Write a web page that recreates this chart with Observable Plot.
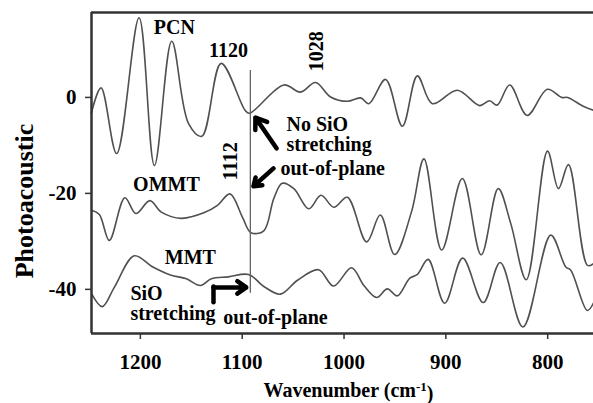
<!DOCTYPE html>
<html>
<head>
<meta charset="utf-8">
<script src="https://cdn.jsdelivr.net/npm/d3@7"></script>
<script src="https://cdn.jsdelivr.net/npm/@observablehq/plot@0.6"></script>
<style>
  html, body { margin: 0; padding: 0; background: #fff; }
</style>
</head>
<body>
<div id="chart"></div>
<script>
// ---- Data (wavenumber in cm^-1, photoacoustic signal) ----
const pcnW = [1248.2,1238.6,1223.3,1201.3,1186.2,1169.2,1152.8,1139.7,1120.7,1097.1,1092.9,1059.1,1042.7,1028.0,1013.2,996.8,983.7,975.6,959.2,942.7,928.0,913.3,888.7,866.8,857.0,849.6,837.3,820.1,800.4,786.2,780.5,764.5,754.7];
const pcnV = [-3.3,2.0,-11.7,16.6,-14.2,11.7,-5.4,-8.1,7.1,-2.7,-3.3,2.6,1.1,3.1,0.1,-0.8,-0.1,-1.3,3.75,-6.0,4.5,-1.3,1.5,-1.7,-0.7,-1.6,2.6,-3.75,1.7,0,0,-1.9,-2.7];

const ommtW = [1247.9,1240.3,1230.5,1215.2,1204.4,1190.7,1179.4,1159.7,1137.1,1124.3,1112.0,1099.7,1091.4,1078.8,1069.0,1060.7,1049.3,1034.6,1022.6,1010.0,996.8,977.8,964.4,950.3,933.6,921.5,904.1,883.8,865.3,848.6,836.3,821.0,800.2,789.4,779.6,760.9,754.7];
const ommtV = [-23.5,-24.4,-29.8,-20.9,-24.2,-21.5,-23.9,-25.2,-24.0,-22.5,-20.1,-25.0,-28.2,-27.8,-21.1,-17.9,-19.0,-23.2,-20.4,-22.9,-20.8,-30.1,-24.5,-32.75,-23.75,-12.8,-31.8,-16.9,-32.8,-19.0,-26.25,-38.0,-11.2,-19.0,-14.0,-35.0,-34.6];

const mmtW = [1247.7,1237.4,1225.6,1205.9,1188.2,1170.5,1154.8,1141.0,1130.2,1113.5,1093.8,1078.1,1062.4,1045.7,1025.0,1010.3,992.6,980.5,968.0,957.5,947.7,935.6,928.0,917.4,901.2,883.5,863.3,846.6,824.3,797.0,782.2,777.3,761.1,754.7];
const mmtV = [-41.0,-43.6,-39.6,-33.0,-35.3,-37.0,-37.8,-39.2,-37.8,-37.4,-36.9,-39.5,-41.0,-38.1,-35.9,-39.3,-35.5,-39.2,-41.7,-39.9,-41.35,-37.7,-36.9,-33.75,-42.9,-33.5,-42.75,-34.4,-47.85,-28.7,-35.35,-36.0,-44.4,-42.7];

const xTicks = [1200, 1100, 1000, 900, 800];
const yTicks = [0, -20, -40];
const xDomain = [1248, 755];
const yDomain = [-49.2, 17.7];

// marker line
const markerW = [1092];
const markerV = [5.6, -40.8];

// annotations
const centerTexts = ["PCN", "1120", "1028", "1112", "OMMT", "MMT", "out-of-plane"];
const centerW = [1166.6, 1113.5, 1027, 1111.5, 1174.4, 1150.9, 1067.3];
const centerV = [14.6, 9.8, 9.6, -13.3, -18.1, -33.3, -45.8];
const centerRot = [0, 0, -90, -90, 0, 0, 0];

const startTexts = ["No SiO\nstretching", "out-of-plane", "SiO\nstretching"];
const startW = [1056.5, 1062.4, 1209.8];
const startV = [-7.8, -14.8, -43.0];

// arrows: [x1, y1, x2, y2]
const arrowX1 = [1066.3, 1069.3, 1128.2];
const arrowY1 = [-10.6, -14.8, -39.6];
const arrowX2 = [1087.0, 1088.9, 1096.0];
const arrowY2 = [-4.2, -18.5, -39.6];
const stemW = [1128.2, 1128.2];
const stemV = [-42.7, -39.4];

// ---- Build tables ----
const series = [
  ...pcnW.map((w, i) => ({name: "PCN", w, v: pcnV[i]})),
  ...ommtW.map((w, i) => ({name: "OMMT", w, v: ommtV[i]})),
  ...mmtW.map((w, i) => ({name: "MMT", w, v: mmtV[i]}))
];
const centerLabels = centerTexts.map((t, i) => ({t, w: centerW[i], v: centerV[i], r: centerRot[i]}));
const startLabels = startTexts.map((t, i) => ({t, w: startW[i], v: startV[i]}));
const arrows = arrowX1.map((x1, i) => ({x1, y1: arrowY1[i], x2: arrowX2[i], y2: arrowY2[i]}));
const stem = stemW.map((w, i) => ({w, v: stemV[i]}));

const font = "'Liberation Serif', 'Times New Roman', serif";
const ink = "#333";

const chart = Plot.plot({
  width: 593,
  height: 403,
  marginLeft: 91,
  marginRight: 0,
  marginTop: 12,
  marginBottom: 70,
  style: {fontFamily: font, fontSize: "21px", fontWeight: "bold", color: "#000", background: "#fff"},
  x: {domain: xDomain, label: null},
  y: {domain: yDomain, label: null},
  marks: [
    Plot.line(series, {x: "w", y: "v", z: "name", stroke: "#505050", strokeWidth: 1.6, curve: "catmull-rom"}),
    Plot.ruleX(markerW, {x: d => d, y1: markerV[0], y2: markerV[1], stroke: "#666", strokeWidth: 1.3}),
    Plot.line(stem, {x: "w", y: "v", stroke: "#000", strokeWidth: 4.5}),
    Plot.arrow(arrows, {x1: "x1", y1: "y1", x2: "x2", y2: "y2", stroke: "#000", strokeWidth: 4.5, headLength: 11, headAngle: 70}),
    Plot.text(centerLabels, {x: "w", y: "v", text: "t", rotate: "r", fontSize: 20, fontWeight: "bold", fill: "#000", textAnchor: "middle"}),
    Plot.text(startLabels, {x: "w", y: "v", text: "t", fontSize: 20, fontWeight: "bold", fill: "#000", textAnchor: "start", lineAnchor: "middle", lineHeight: 0.98}),
    // frame (top, left, bottom)
    Plot.ruleY([yDomain[1], yDomain[0]], {stroke: ink, strokeWidth: 2.5}),
    Plot.ruleX([xDomain[0]], {stroke: ink, strokeWidth: 2.5}),
    Plot.axisX({ticks: xTicks, tickSize: 6, tickPadding: 15, stroke: ink, strokeWidth: 1.5, fontSize: 21, fontWeight: "bold", fill: "#000", tickFormat: d => `${d}`, label: null}),
    Plot.axisY({ticks: yTicks, tickSize: 6, tickPadding: 9, stroke: ink, strokeWidth: 1.5, fontSize: 21, fontWeight: "bold", fill: "#000", tickFormat: d => `${d}`, label: null}),
    Plot.text(["Wavenumber (cm-1)"], {frameAnchor: "bottom", dx: 6, dy: 57, textAnchor: "middle", lineAnchor: "middle", text: d => d, fontSize: 20, fontWeight: "bold", fill: "#000"}),
    Plot.text(["Photoacoustic"], {frameAnchor: "left", dx: -67, dy: 28, rotate: -90, textAnchor: "middle", lineAnchor: "middle", text: d => d, fontSize: 26, fontWeight: "bold", fill: "#000"})
  ]
});

// superscript for the axis label
d3.select(chart).selectAll("text").each(function() {
  const el = d3.select(this);
  if (el.text() === "Wavenumber (cm-1)") {
    el.text(null);
    el.append("tspan").text("Wavenumber (cm");
    el.append("tspan").attr("dy", "-0.45em").attr("font-size", "13px").text("-1");
    el.append("tspan").attr("dy", "0.45em").text(")");
  }
});

document.getElementById("chart").appendChild(chart);
</script>
</body>
</html>
